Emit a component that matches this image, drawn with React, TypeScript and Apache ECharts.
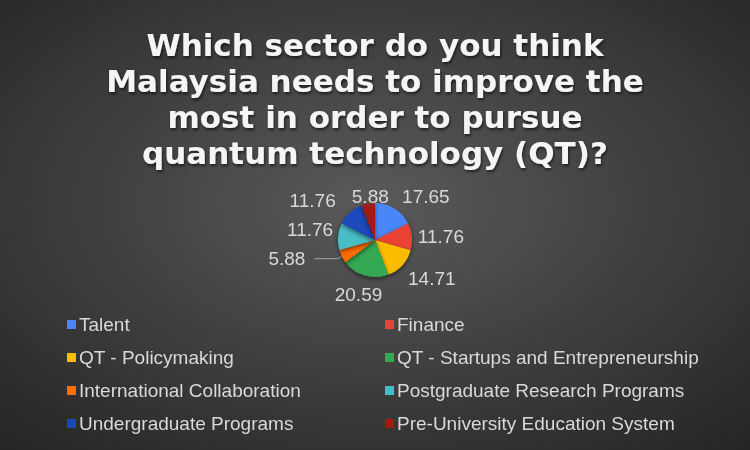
import React, { useEffect, useRef } from "react";
import * as echarts from "echarts";

const titleLines = [
  "Which sector do you think",
  "Malaysia needs to improve the",
  "most in order to pursue",
  "quantum technology (QT)?",
];
const categories = [
  "Talent",
  "Finance",
  "QT - Policymaking",
  "QT - Startups and Entrepreneurship",
  "International Collaboration",
  "Postgraduate Research Programs",
  "Undergraduate Programs",
  "Pre-University Education System",
];
const values = [17.65, 11.76, 14.71, 20.59, 5.88, 11.76, 11.76, 5.88];
const colors = ["#4a86f7", "#ea4335", "#fbbc04", "#34a853", "#ff6d01", "#46bdc6", "#1a48bb", "#a11b12"];
const leftLegend = [categories[0], categories[2], categories[4], categories[6]];
const rightLegend = [categories[1], categories[3], categories[5], categories[7]];

export default function App() {
  const ref = useRef<HTMLDivElement>(null);
  useEffect(() => {
    const chart = echarts.init(ref.current!, null, { renderer: "svg" });
    const legendCommon = {
      orient: "vertical" as const,
      top: 310,
      itemWidth: 9,
      itemHeight: 9,
      itemGap: 14,
      icon: "rect",
      textStyle: { color: "#d9d9d9", fontSize: 19, fontFamily: "Liberation Sans", padding: [0, 0, 0, -2] },
      selectedMode: false,
    };
    chart.setOption({
      animation: false,
      backgroundColor: {
        type: "radial",
        x: 0.5,
        y: 0.45,
        r: 0.75,
        colorStops: [
          { offset: 0, color: "#5a5a5a" },
          { offset: 1, color: "#242424" },
        ],
      },
      color: colors,
      graphic: [
        {
          type: "text",
          x: 375,
          y: 27,
          style: {
            text: titleLines.join("\n"),
            fill: "#f5f5f5",
            fontSize: 31,
            fontWeight: "bold",
            fontFamily: "DejaVu Sans",
            lineHeight: 36,
            align: "center",
            verticalAlign: "top",
            textShadowColor: "rgba(0,0,0,0.6)",
            textShadowBlur: 3,
            textShadowOffsetX: 1,
            textShadowOffsetY: 2,
          },
        },
      ],
      legend: [
        { ...legendCommon, left: 62, data: leftLegend },
        { ...legendCommon, left: 380, data: rightLegend },
      ],
      series: [
        {
          type: "pie",
          center: [375, 240],
          radius: 37,
          startAngle: 90,
          clockwise: true,
          avoidLabelOverlap: false,
          itemStyle: {
            shadowBlur: 4,
            shadowColor: "rgba(0,0,0,0.5)",
            shadowOffsetY: 2,
          },
          label: {
            show: true,
            position: "outside",
            formatter: (p: any) => p.value.toFixed(2),
            color: "#d9d9d9",
            fontSize: 19,
            fontFamily: "Liberation Sans",
          },
          labelLine: { show: false, length: 5, length2: 0 },
          labelLayout: (p: any) => {
            switch (p.dataIndex) {
              case 0: return { dy: -8 };
              case 1: return { dx: -4 };
              case 2: return { dy: 10, dx: -3 };
              case 3: return { align: "center", verticalAlign: "top", dy: 5 };
              case 5: return { dy: -7, dx: 5 };
              case 6: return { dy: -8, dx: -6 };
              case 7: return { align: "center", dx: 8, dy: -2 };
              default: return {};
            }
          },
          data: categories.map((c, i) => {
            const d: any = { name: c, value: values[i] };
            if (i === 4) {
              d.labelLine = { show: true, length: 5, length2: 23, lineStyle: { color: "#a6a6a6", width: 1 } };
              d.label = { distanceToLabelLine: 9 };
            }
            return d;
          }),
        },
      ],
    });
    return () => chart.dispose();
  }, []);
  return <div ref={ref} style={{ width: 750, height: 450, position: "fixed", left: 0, top: 0 }} />;
}
